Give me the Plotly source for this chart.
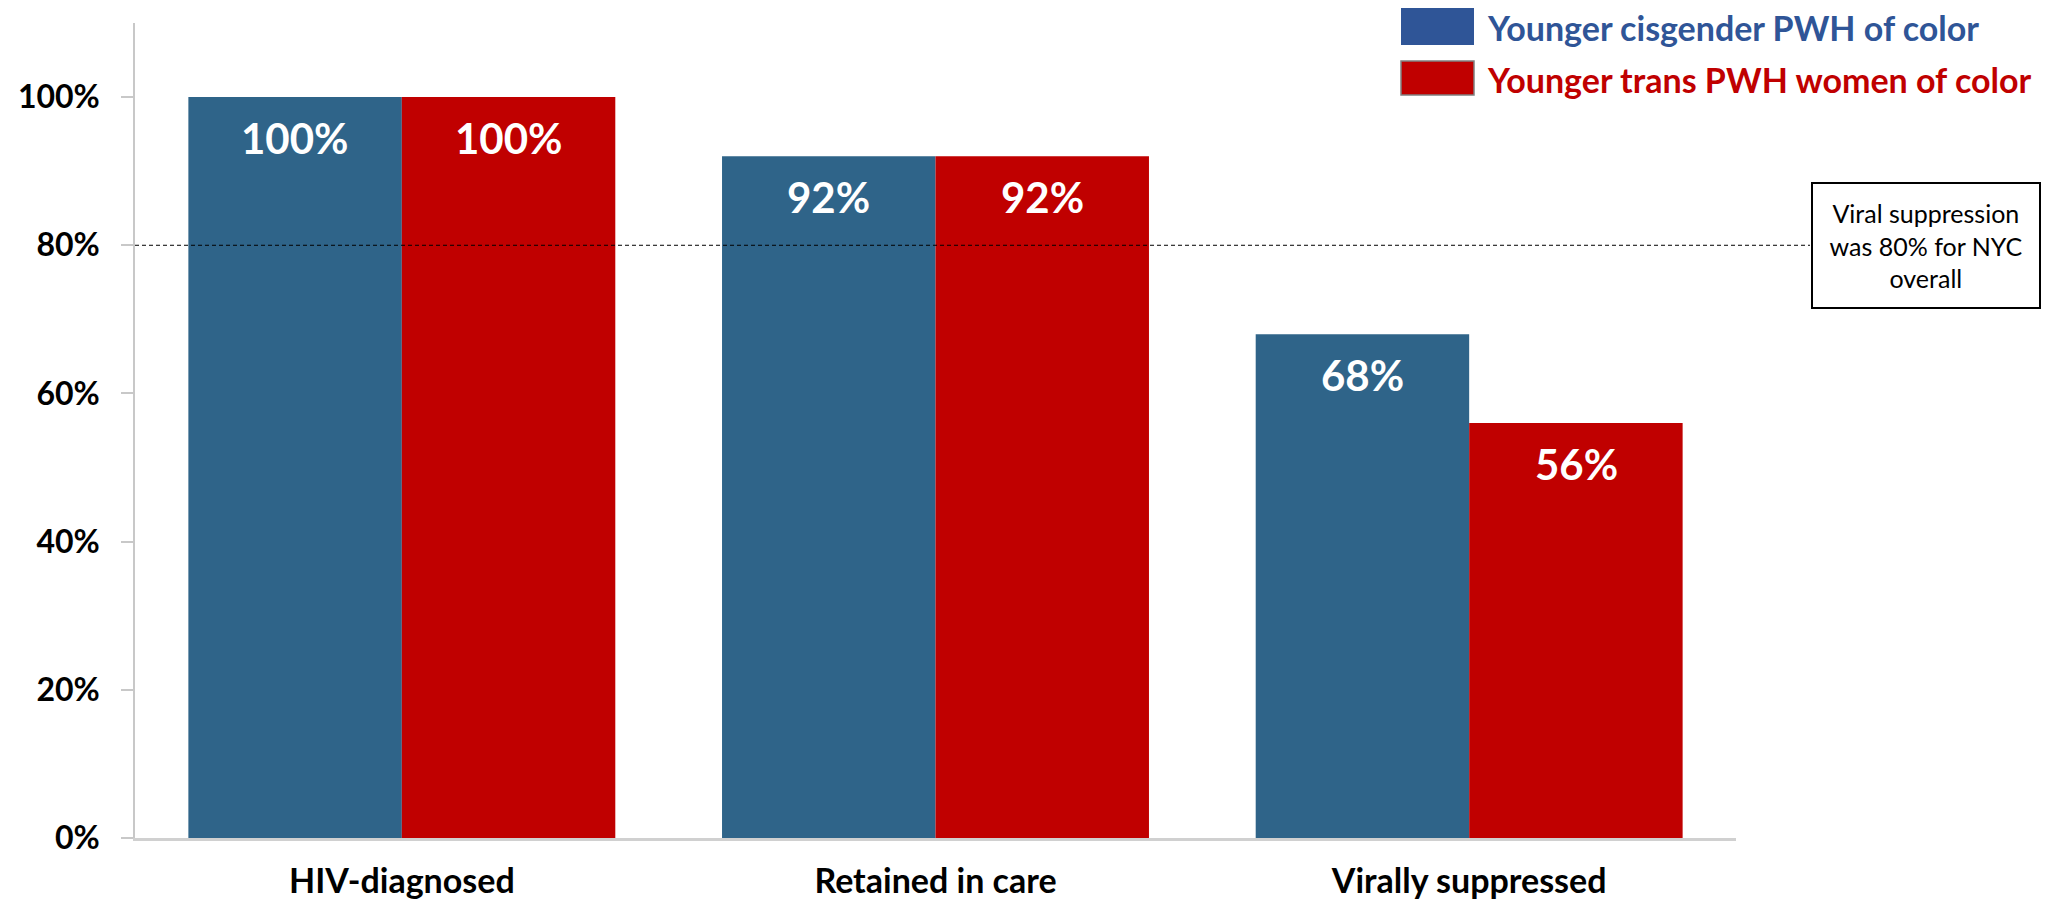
import plotly.graph_objects as go

# Care continuum stages and percentages for each group
categories = ["HIV-diagnosed", "Retained in care", "Virally suppressed"]
cis_values = [100, 92, 68]
trans_values = [100, 92, 56]
series_names = ["Younger cisgender PWH of color", "Younger trans PWH women of color"]
nyc_reference = 80
reference_note = "Viral suppression<br>was 80% for NYC<br>overall"
y_ticks = [0, 20, 40, 60, 80, 100]
y_tick_labels = ["0%", "20%", "40%", "60%", "80%", "100%"]

BAR_BLUE = "#2F6489"
BAR_RED = "#C00000"
LEGEND_BLUE = "#2F5597"
AXIS_GRAY = "#C8C8C8"
FONT = "Lato"

W, H = 2054, 905
L, R, T, B = 135, 318, 23, 67
PW, PH = W - L - R, H - T - B


def px_x(px):
    return (px - L) / PW


def px_y(py):
    return (H - B - py) / PH


fig = go.Figure()
for name, vals, color in [(series_names[0], cis_values, BAR_BLUE),
                          (series_names[1], trans_values, BAR_RED)]:
    fig.add_trace(go.Bar(
        x=categories, y=vals, name=name,
        marker=dict(color=color, line=dict(width=0)),
        showlegend=False,
    ))

# value labels inside the top of each bar
annotations = []
for vals, shift in [(cis_values, -107), (trans_values, 107)]:
    for cat, v in zip(categories, vals):
        annotations.append(dict(
            x=cat, y=v, xref="x", yref="y", text=f"{v}%", showarrow=False,
            xshift=shift, yshift=-41, yanchor="middle",
            font=dict(family=FONT, size=42, color="white", weight="bold"),
        ))

# note box for the NYC overall reference
annotations.append(dict(
    x=px_x(1926), y=nyc_reference, xref="paper", yref="y",
    text=reference_note, showarrow=False, align="center",
    xanchor="center", yanchor="middle", width=226, height=123,
    bordercolor="black", borderwidth=2, borderpad=0, bgcolor="white",
    font=dict(family=FONT, size=25, color="black"),
))

# custom legend
legend_rows = [(series_names[0], LEGEND_BLUE, 8, 45, None),
               (series_names[1], BAR_RED, 61, 95, "#808080")]
shapes = []
for name, color, top, bottom, edge in legend_rows:
    shapes.append(dict(
        type="rect", xref="paper", yref="paper",
        x0=px_x(1401), x1=px_x(1474), y0=px_y(bottom), y1=px_y(top),
        fillcolor=color,
        line=dict(color=edge if edge else color, width=1.5 if edge else 0),
    ))
    annotations.append(dict(
        x=px_x(1485), y=px_y((top + bottom) / 2 + 1), xref="paper", yref="paper",
        text=name, showarrow=False, xanchor="left", yanchor="middle",
        font=dict(family=FONT, size=34, color=color, weight="bold"),
    ))

# dashed reference line at 80%
shapes.append(dict(
    type="line", xref="paper", yref="y", x0=0, x1=px_x(1810),
    y0=nyc_reference, y1=nyc_reference,
    line=dict(color="black", width=1, dash="4px,3px"),
))

fig.update_layout(
    width=W, height=H,
    margin=dict(l=L, r=R, t=T, b=B, pad=0, autoexpand=False),
    paper_bgcolor="white", plot_bgcolor="white",
    barmode="group", bargap=0.2, bargroupgap=0,
    annotations=annotations, shapes=shapes,
    showlegend=False,
    xaxis=dict(
        showline=True, linecolor="#D0D0D0", linewidth=2.5,
        ticks="", showgrid=False, ticklabelstandoff=11, automargin=False,
        tickfont=dict(family=FONT, size=34, color="black", weight="bold"),
    ),
    yaxis=dict(
        range=[0, 110], tickvals=y_ticks, ticktext=y_tick_labels,
        showline=True, linecolor=AXIS_GRAY, linewidth=1.5,
        ticks="outside", ticklen=12, tickcolor=AXIS_GRAY, tickwidth=1.5,
        showgrid=False, zeroline=False, ticklabelstandoff=15, automargin=False,
        tickfont=dict(family=FONT, size=32, color="black", weight="bold"),
    ),
    yaxis2=dict(
        range=[0, 110], tickvals=y_ticks, overlaying="y", side="left",
        anchor="x", ticks="inside", ticklen=12, tickcolor=AXIS_GRAY,
        tickwidth=1.5, showticklabels=False, showline=False, showgrid=False,
        zeroline=False, automargin=False,
    ),
)

fig.write_html("out.html")
